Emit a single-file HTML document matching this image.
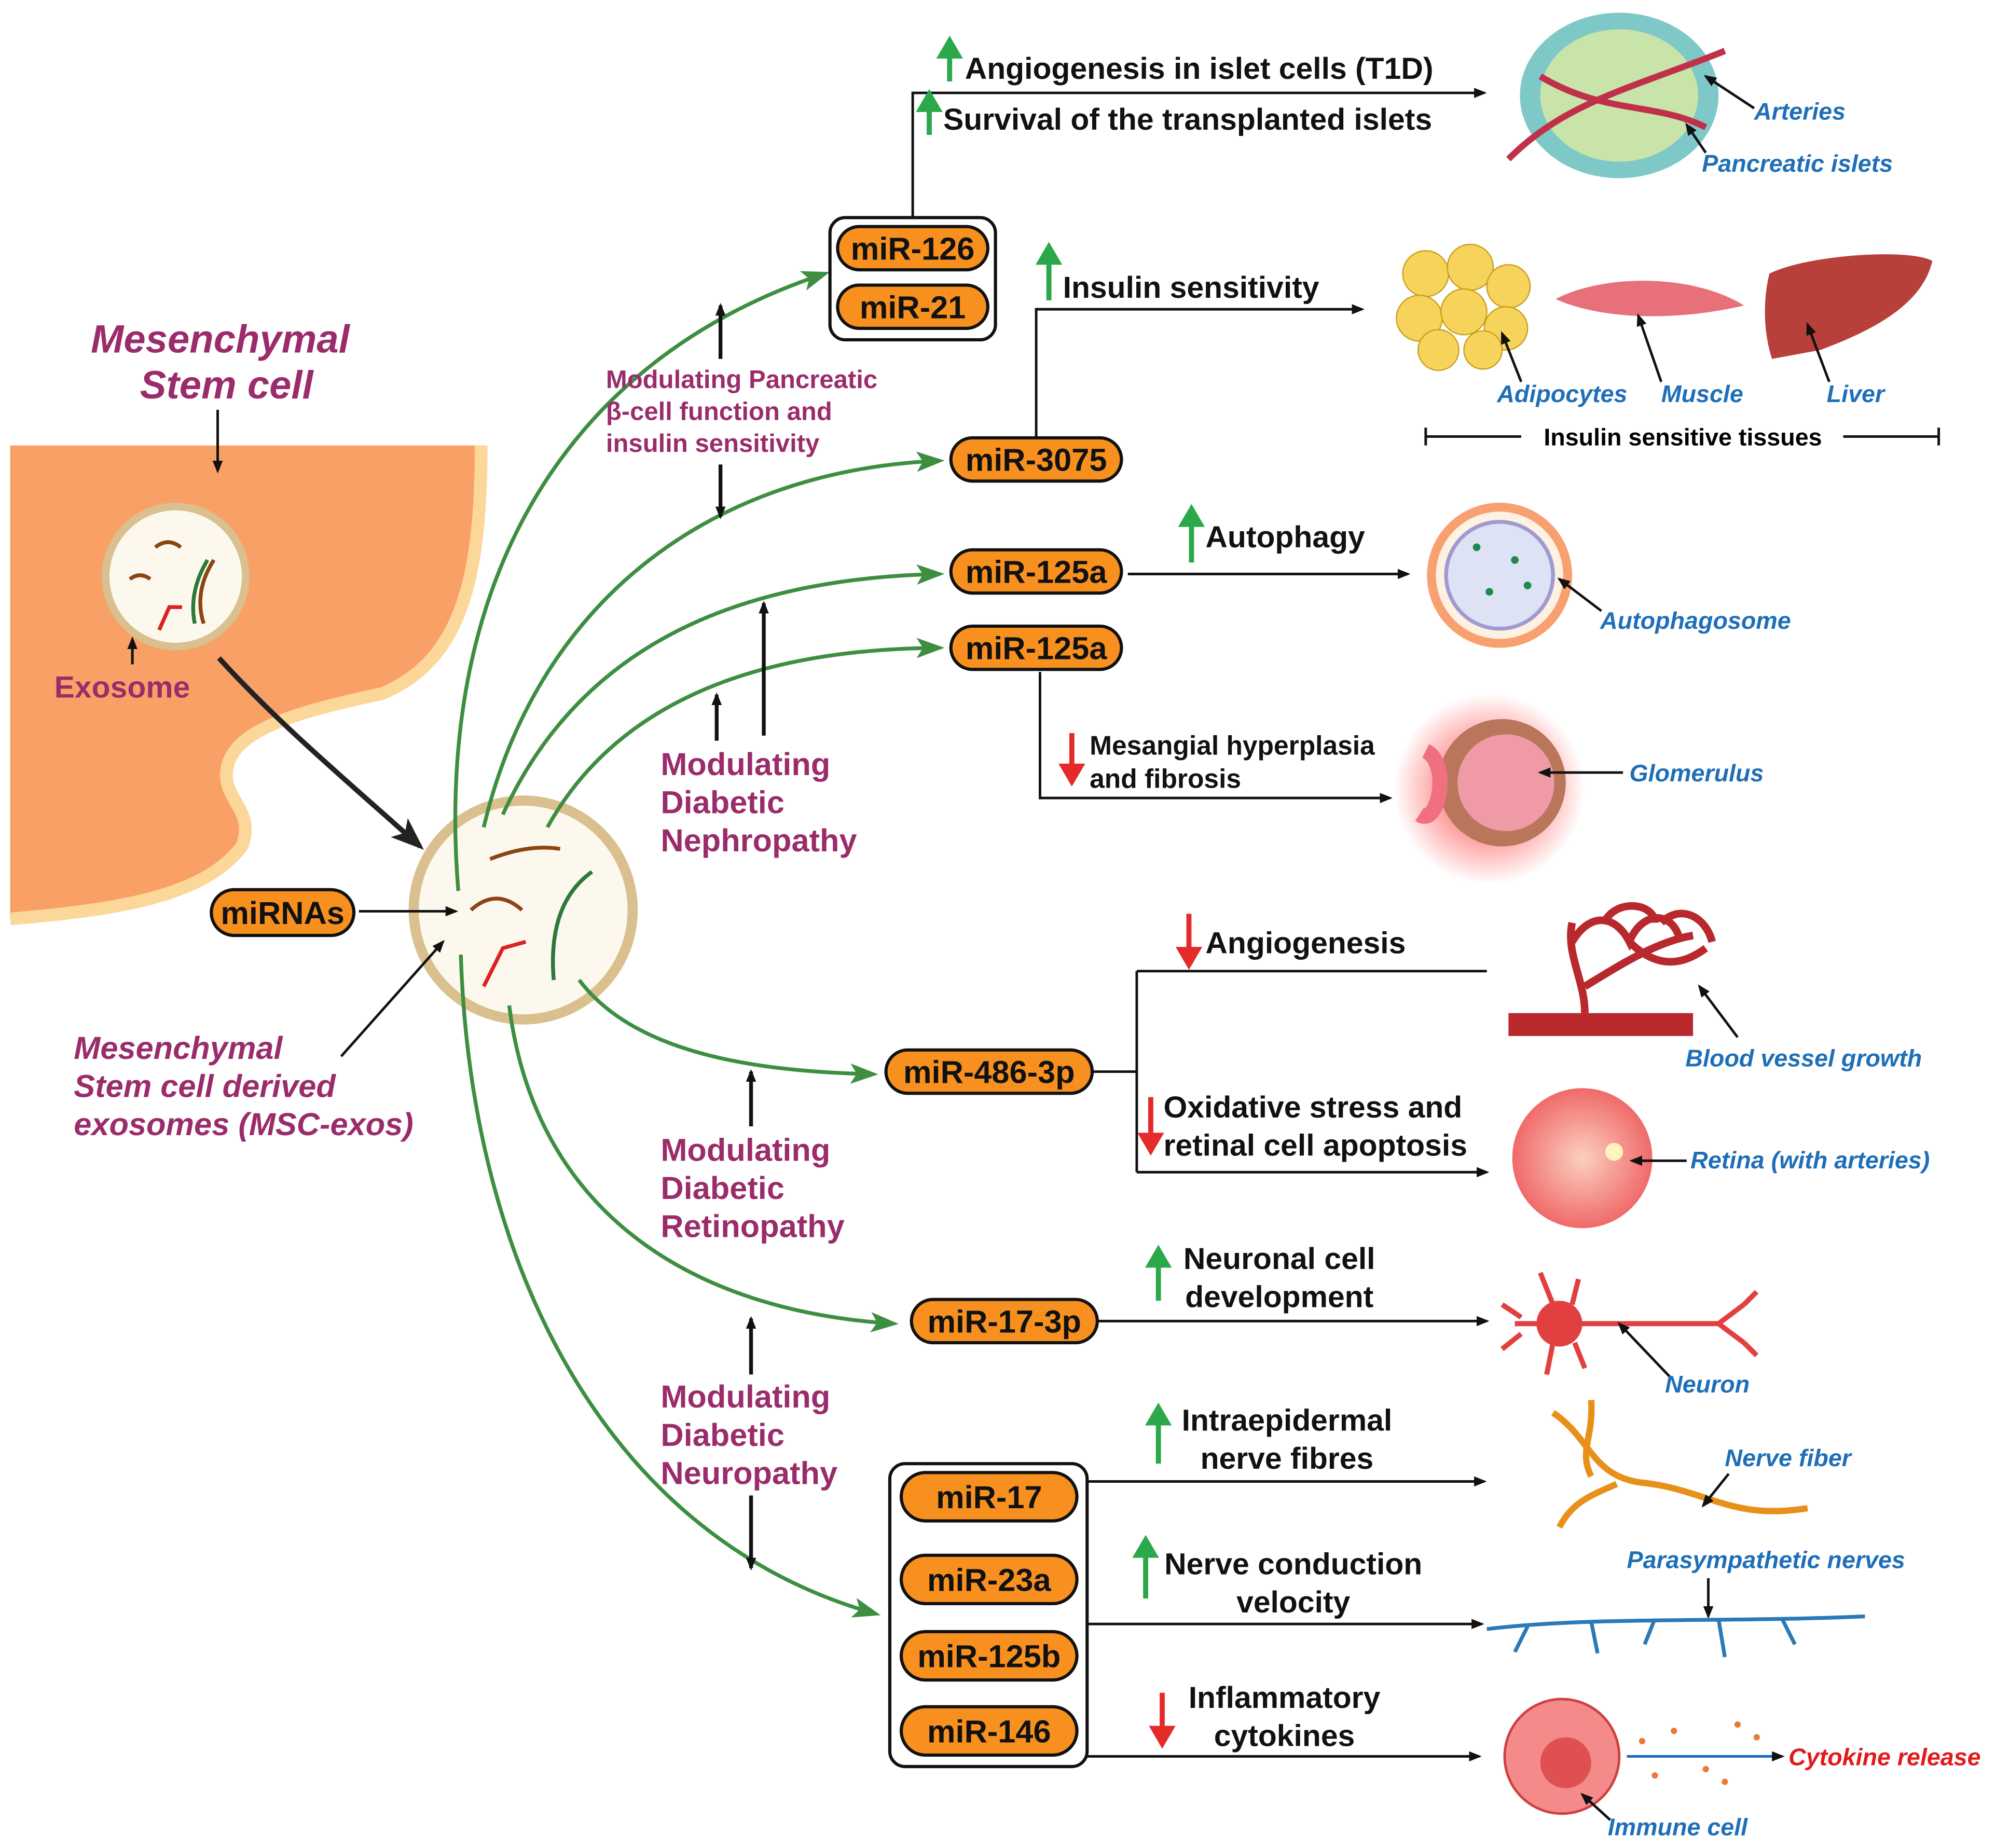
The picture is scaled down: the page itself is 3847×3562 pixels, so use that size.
<!DOCTYPE html>
<html><head><meta charset="utf-8"><style>
html,body{margin:0;padding:0;background:#fff}
svg{display:block}
text{font-family:"Liberation Sans",sans-serif}
.b{font-weight:bold;font-size:24px;fill:#111}
.p{font-weight:bold;fill:#9B2C6B}
.bl{font-style:italic;font-weight:bold;font-size:19px;fill:#1F6FB8}
.pill{fill:#F7901E;stroke:#111;stroke-width:2.5}
.pt{font-weight:bold;font-size:25px;fill:#111;text-anchor:middle}
.k{stroke:#111;stroke-width:2;fill:none}
.g{stroke:#3E8E41;stroke-width:3;fill:none}
</style></head><body>
<svg width="3847" height="3562" viewBox="0 0 1568 1452" preserveAspectRatio="none" xmlns="http://www.w3.org/2000/svg">
<defs>
<marker id="ak" markerWidth="10" markerHeight="10" refX="8" refY="5" orient="auto" markerUnits="userSpaceOnUse"><path d="M0,1 L10,5 L0,9z" fill="#111"/></marker>
<marker id="ag" markerWidth="22" markerHeight="18" refX="18" refY="9" orient="auto" markerUnits="userSpaceOnUse"><path d="M0,1 L22,9 L0,17 L5,9z" fill="#3E8E41"/></marker>
<marker id="ab" markerWidth="26" markerHeight="22" refX="22" refY="11" orient="auto" markerUnits="userSpaceOnUse"><path d="M0,1 L26,11 L0,21 L6,11z" fill="#222"/></marker>
<radialGradient id="glow"><stop offset="0.5" stop-color="#f55" stop-opacity=".6"/><stop offset="1" stop-color="#f55" stop-opacity="0"/></radialGradient>
<radialGradient id="eye"><stop offset="0" stop-color="#fbd0c0"/><stop offset="1" stop-color="#f06a6a"/></radialGradient>
</defs>
<!-- cell -->
<path d="M8,350 L378,350 C378,460 360,520 300,545 C230,560 175,575 178,612 C180,630 200,640 190,665 C160,705 90,715 8,722 Z" fill="#F9A066"/>
<path d="M378,350 C378,460 360,520 300,545 C230,560 175,575 178,612 C180,630 200,640 190,665 C160,705 90,715 8,722" fill="none" stroke="#FCD79A" stroke-width="10"/>
<text x="173" y="277" class="p" font-size="31" font-style="italic" text-anchor="middle">Mesenchymal</text>
<text x="178" y="313" class="p" font-size="31" font-style="italic" text-anchor="middle">Stem cell</text>
<line x1="171" y1="322" x2="171" y2="370" class="k" marker-end="url(#ak)"/>
<circle cx="138" cy="453" r="55" fill="#FDF8EE" stroke="#D9C08E" stroke-width="6"/>
<path d="M122,430 q10,-8 20,0 M102,455 q8,-6 16,0 M160,490 q-8,-25 8,-50" stroke="#8B4513" stroke-width="3" fill="none"/>
<path d="M125,495 l8,-18 l10,0" stroke="#d22" stroke-width="3" fill="none"/><path d="M153,490 q-5,-25 10,-50" stroke="#2a7a3a" stroke-width="3" fill="none"/>
<line x1="104" y1="522" x2="104" y2="502" class="k" marker-end="url(#ak)"/>
<text x="96" y="548" class="p" font-size="24" text-anchor="middle">Exosome</text>
<path d="M172,517 C220,570 280,620 330,665" stroke="#222" stroke-width="4" fill="none" marker-end="url(#ab)"/>
<!-- big exosome -->
<circle cx="411" cy="715" r="86" fill="#FDF8EE" stroke="#D9C08E" stroke-width="8"/>
<path d="M385,675 q30,-12 55,-8 M370,715 q20,-18 40,0 M435,770 q-5,-60 30,-85" stroke="#8B4513" stroke-width="3" fill="none"/>
<path d="M380,775 l15,-30 l18,-5" stroke="#d22" stroke-width="3" fill="none"/><path d="M435,770 q-5,-60 30,-85" stroke="#2a7a3a" stroke-width="3" fill="none"/>
<rect x="166" y="699" width="112" height="36" rx="18" class="pill"/><text x="222" y="726" class="pt">miRNAs</text>
<line x1="282" y1="716" x2="358" y2="716" class="k" marker-end="url(#ak)"/>
<line x1="268" y1="830" x2="348" y2="740" class="k" marker-end="url(#ak)"/>
<g class="p" font-size="25" font-style="italic"><text x="58" y="832">Mesenchymal</text><text x="58" y="862">Stem cell derived</text><text x="58" y="892">exosomes (MSC-exos)</text></g>
<!-- green curves -->
<path d="M360,700 C340,450 450,280 648,215" class="g" marker-end="url(#ag)"/>
<path d="M380,650 C420,480 550,370 738,362" class="g" marker-end="url(#ag)"/>
<path d="M395,640 C450,520 560,455 738,451" class="g" marker-end="url(#ag)"/>
<path d="M430,650 C480,560 580,510 738,509" class="g" marker-end="url(#ag)"/>
<path d="M455,770 C500,830 600,842 686,844" class="g" marker-end="url(#ag)"/>
<path d="M400,790 C420,950 540,1030 702,1040" class="g" marker-end="url(#ag)"/>
<path d="M362,750 C370,1000 480,1210 688,1268" class="g" marker-end="url(#ag)"/>
<!-- purple labels -->
<g class="p" font-size="20"><text x="476" y="305">Modulating Pancreatic</text><text x="476" y="330">β-cell function and</text><text x="476" y="355">insulin sensitivity</text></g>
<g class="p" font-size="25"><text x="519" y="609">Modulating</text><text x="519" y="639">Diabetic</text><text x="519" y="669">Nephropathy</text>
<text x="519" y="912">Modulating</text><text x="519" y="942">Diabetic</text><text x="519" y="972">Retinopathy</text>
<text x="519" y="1106">Modulating</text><text x="519" y="1136">Diabetic</text><text x="519" y="1166">Neuropathy</text></g>
<g stroke="#111" stroke-width="3" fill="none">
<line x1="566" y1="282" x2="566" y2="240" marker-end="url(#ak)"/><line x1="566" y1="365" x2="566" y2="406" marker-end="url(#ak)"/>
<line x1="600" y1="578" x2="600" y2="474" marker-end="url(#ak)"/><line x1="563" y1="582" x2="563" y2="546" marker-end="url(#ak)"/>
<line x1="590" y1="885" x2="590" y2="842" marker-end="url(#ak)"/>
<line x1="590" y1="1080" x2="590" y2="1036" marker-end="url(#ak)"/><line x1="590" y1="1175" x2="590" y2="1232" marker-end="url(#ak)"/>
</g>
<!-- pills -->
<rect x="652" y="171" width="130" height="96" rx="12" fill="#fff" stroke="#111" stroke-width="2.5"/>
<rect x="658" y="178" width="118" height="34" rx="17" class="pill"/><text x="717" y="204" class="pt">miR-126</text>
<rect x="658" y="224" width="118" height="34" rx="17" class="pill"/><text x="717" y="250" class="pt">miR-21</text>
<rect x="747" y="344" width="134" height="34" rx="17" class="pill"/><text x="814" y="370" class="pt">miR-3075</text>
<rect x="747" y="432" width="134" height="34" rx="17" class="pill"/><text x="814" y="458" class="pt">miR-125a</text>
<rect x="747" y="492" width="134" height="34" rx="17" class="pill"/><text x="814" y="518" class="pt">miR-125a</text>
<rect x="696" y="825" width="162" height="34" rx="17" class="pill"/><text x="777" y="851" class="pt">miR-486-3p</text>
<rect x="716" y="1021" width="146" height="34" rx="17" class="pill"/><text x="789" y="1047" class="pt">miR-17-3p</text>
<rect x="699" y="1150" width="155" height="238" rx="12" fill="#fff" stroke="#111" stroke-width="2.5"/>
<rect x="708" y="1157" width="138" height="38" rx="19" class="pill"/><text x="777" y="1185" class="pt">miR-17</text>
<rect x="708" y="1222" width="138" height="38" rx="19" class="pill"/><text x="777" y="1250" class="pt">miR-23a</text>
<rect x="708" y="1282" width="138" height="38" rx="19" class="pill"/><text x="777" y="1310" class="pt">miR-125b</text>
<rect x="708" y="1341" width="138" height="38" rx="19" class="pill"/><text x="777" y="1369" class="pt">miR-146</text>
<!-- connectors -->
<g class="k">
<path d="M717,171 V73 H1166" marker-end="url(#ak)"/>
<path d="M814,344 V243 H1070" marker-end="url(#ak)"/>
<path d="M886,451 H1106" marker-end="url(#ak)"/>
<path d="M817,528 V627 H1092" marker-end="url(#ak)"/>
<path d="M858,842 H893 M893,763 V921 M893,763 H1168 M893,921 H1168" marker-end="url(#ak)"/>
<path d="M862,1038 H1168" marker-end="url(#ak)"/>
<path d="M854,1164 H1166" marker-end="url(#ak)"/>
<path d="M854,1276 H1164" marker-end="url(#ak)"/>
<path d="M854,1380 H1162" marker-end="url(#ak)"/>
</g>
<!-- effect texts -->
<g class="b"><text x="758" y="62">Angiogenesis in islet cells (T1D)</text><text x="741" y="102">Survival of the transplanted islets</text>
<text x="835" y="234">Insulin sensitivity</text><text x="947" y="430">Autophagy</text>
<text x="856" y="593" font-size="21">Mesangial hyperplasia</text><text x="856" y="619" font-size="21">and fibrosis</text>
<text x="947" y="749">Angiogenesis</text><text x="914" y="878">Oxidative stress and</text><text x="914" y="908">retinal cell apoptosis</text>
<text x="1005" y="997" text-anchor="middle">Neuronal cell</text><text x="1005" y="1027" text-anchor="middle">development</text>
<text x="1011" y="1124" text-anchor="middle">Intraepidermal</text><text x="1011" y="1154" text-anchor="middle">nerve fibres</text>
<text x="1016" y="1237" text-anchor="middle">Nerve conduction</text><text x="1016" y="1267" text-anchor="middle">velocity</text>
<text x="1009" y="1342" text-anchor="middle">Inflammatory</text><text x="1009" y="1372" text-anchor="middle">cytokines</text></g>
<!-- up/down arrows -->
<g stroke-width="4">
<g stroke="#2aa84a" fill="#2aa84a">
<line x1="746" y1="64" x2="746" y2="44"/><path d="M739,44 L746,32 L753,44z"/>
<line x1="730" y1="106" x2="730" y2="86"/><path d="M723,86 L730,74 L737,86z"/>
<line x1="824" y1="236" x2="824" y2="206"/><path d="M817,206 L824,194 L831,206z"/>
<line x1="936" y1="442" x2="936" y2="412"/><path d="M929,412 L936,400 L943,412z"/>
<line x1="910" y1="1022" x2="910" y2="994"/><path d="M903,994 L910,982 L917,994z"/>
<line x1="910" y1="1150" x2="910" y2="1118"/><path d="M903,1118 L910,1106 L917,1118z"/>
<line x1="900" y1="1256" x2="900" y2="1222"/><path d="M893,1222 L900,1210 L907,1222z"/>
</g>
<g stroke="#e52a2a" fill="#e52a2a">
<line x1="842" y1="576" x2="842" y2="602"/><path d="M835,602 L842,614 L849,602z"/>
<line x1="934" y1="718" x2="934" y2="746"/><path d="M927,746 L934,758 L941,746z"/>
<line x1="904" y1="862" x2="904" y2="892"/><path d="M897,892 L904,904 L911,892z"/>
<line x1="913" y1="1330" x2="913" y2="1358"/><path d="M906,1358 L913,1370 L920,1358z"/>
</g></g>
<!-- illustrations -->
<ellipse cx="1272" cy="75" rx="78" ry="65" fill="#7ec8c8"/><ellipse cx="1272" cy="75" rx="62" ry="52" fill="#c8e4a8"/>
<path d="M1185,125 C1230,80 1280,70 1355,40 M1210,60 C1260,90 1300,80 1340,100" stroke="#c0304a" stroke-width="5" fill="none"/>
<line x1="1378" y1="85" x2="1340" y2="60" class="k" marker-end="url(#ak)"/><line x1="1340" y1="120" x2="1325" y2="98" class="k" marker-end="url(#ak)"/>
<text x="1378" y="94" class="bl">Arteries</text><text x="1337" y="135" class="bl">Pancreatic islets</text>
<g fill="#F6D35A" stroke="#c9a020"><circle cx="1120" cy="215" r="18"/><circle cx="1155" cy="210" r="18"/><circle cx="1185" cy="225" r="17"/><circle cx="1115" cy="250" r="18"/><circle cx="1150" cy="245" r="18"/><circle cx="1183" cy="258" r="17"/><circle cx="1130" cy="275" r="16"/><circle cx="1165" cy="275" r="15"/></g>
<path d="M1222,235 C1260,215 1330,215 1370,240 C1320,252 1260,252 1222,235z" fill="#e8707a"/>
<path d="M1390,215 C1420,200 1500,195 1518,205 C1510,240 1470,260 1430,275 L1392,282 C1385,260 1385,235 1390,215z" fill="#b8403a"/>
<g class="k"><line x1="1195" y1="300" x2="1180" y2="262" marker-end="url(#ak)"/><line x1="1305" y1="300" x2="1287" y2="248" marker-end="url(#ak)"/><line x1="1437" y1="300" x2="1420" y2="255" marker-end="url(#ak)"/></g>
<text x="1176" y="316" class="bl">Adipocytes</text><text x="1305" y="316" class="bl">Muscle</text><text x="1435" y="316" class="bl">Liver</text>
<path d="M1120,343 H1195 M1448,343 H1523 M1120,336 V350 M1523,336 V350" class="k"/>
<text x="1322" y="350" text-anchor="middle" font-weight="bold" font-size="19">Insulin sensitive tissues</text>
<circle cx="1178" cy="452" r="57" fill="#f8a070"/><circle cx="1178" cy="452" r="50" fill="#fdf1e2"/><circle cx="1178" cy="452" r="42" fill="#dde2f5" stroke="#a09ad0" stroke-width="3"/>
<g fill="#1f8a4a"><circle cx="1160" cy="430" r="3"/><circle cx="1190" cy="440" r="3"/><circle cx="1170" cy="465" r="3"/><circle cx="1200" cy="460" r="3"/></g>
<line x1="1258" y1="480" x2="1225" y2="455" class="k" marker-end="url(#ak)"/><text x="1257" y="494" class="bl">Autophagosome</text>
<circle cx="1170" cy="620" r="75" fill="url(#glow)"/><circle cx="1180" cy="615" r="50" fill="#b9765a"/><circle cx="1183" cy="615" r="38" fill="#f09aa8"/>
<path d="M1120,590 C1140,600 1130,650 1115,640" stroke="#f07080" stroke-width="12" fill="none"/>
<line x1="1275" y1="607" x2="1210" y2="607" class="k" marker-end="url(#ak)"/><text x="1280" y="614" class="bl">Glomerulus</text>
<rect x="1185" y="796" width="145" height="18" fill="#b8282c"/>
<g stroke="#b8282c" stroke-width="6" fill="none"><path d="M1245,796 C1245,770 1230,750 1235,725 M1245,775 C1270,760 1300,740 1330,735 M1235,740 C1250,715 1270,720 1280,740 C1290,715 1315,715 1320,740 M1280,740 C1300,760 1320,760 1340,745 M1260,725 C1270,705 1300,710 1300,725 M1305,725 C1320,710 1340,720 1345,740"/></g>
<line x1="1365" y1="815" x2="1335" y2="775" class="k" marker-end="url(#ak)"/><text x="1324" y="838" class="bl">Blood vessel growth</text>
<circle cx="1243" cy="910" r="55" fill="url(#eye)"/><circle cx="1268" cy="905" r="7" fill="#fff3c0"/>
<line x1="1325" y1="912" x2="1282" y2="912" class="k" marker-end="url(#ak)"/><text x="1328" y="918" class="bl">Retina (with arteries)</text>
<g stroke="#e24040" stroke-width="4" fill="none"><path d="M1190,1040 H1350 M1350,1040 l20,-15 M1350,1040 l20,15 M1370,1025 l10,-10 M1370,1055 l10,10 M1180,1025 l15,10 M1180,1060 l15,-12 M1210,1000 l10,25 M1215,1080 l5,-25 M1240,1005 l-5,20 M1245,1075 l-8,-20"/></g><circle cx="1225" cy="1040" r="18" fill="#e24040"/>
<line x1="1312" y1="1082" x2="1272" y2="1040" class="k" marker-end="url(#ak)"/><text x="1308" y="1094" class="bl">Neuron</text>
<path d="M1220,1110 C1250,1130 1250,1160 1290,1165 C1340,1170 1360,1195 1420,1185 M1225,1200 C1235,1180 1250,1175 1270,1166 M1250,1100 C1252,1130 1240,1140 1250,1160" stroke="#e8901a" stroke-width="5" fill="none"/>
<line x1="1358" y1="1158" x2="1338" y2="1183" class="k" marker-end="url(#ak)"/><text x="1355" y="1152" class="bl">Nerve fiber</text>
<text x="1278" y="1232" class="bl">Parasympathetic nerves</text><line x1="1342" y1="1240" x2="1342" y2="1270" class="k" marker-end="url(#ak)"/>
<path d="M1168,1280 C1250,1270 1350,1275 1465,1270 M1200,1278 l-10,20 M1250,1274 l5,25 M1300,1272 l-8,20 M1350,1272 l5,30 M1400,1272 l10,20" stroke="#2a7ab8" stroke-width="3" fill="none"/>
<circle cx="1227" cy="1380" r="45" fill="#f48a8a" stroke="#d04040" stroke-width="2"/><circle cx="1230" cy="1385" r="20" fill="#e05050"/>
<line x1="1278" y1="1380" x2="1400" y2="1380" stroke="#1a6ab8" stroke-width="2" marker-end="url(#ak)"/>
<g fill="#e87a3a"><circle cx="1290" cy="1368" r="2.5"/><circle cx="1315" cy="1360" r="2.5"/><circle cx="1340" cy="1390" r="2.5"/><circle cx="1365" cy="1355" r="2.5"/><circle cx="1300" cy="1395" r="2.5"/><circle cx="1355" cy="1400" r="2.5"/><circle cx="1380" cy="1365" r="2.5"/></g>
<text x="1405" y="1387" font-style="italic" font-weight="bold" font-size="19" fill="#e21a1a">Cytokine release</text>
<line x1="1265" y1="1430" x2="1243" y2="1410" class="k" marker-end="url(#ak)"/><text x="1263" y="1442" class="bl">Immune cell</text>
</svg>
</body></html>
